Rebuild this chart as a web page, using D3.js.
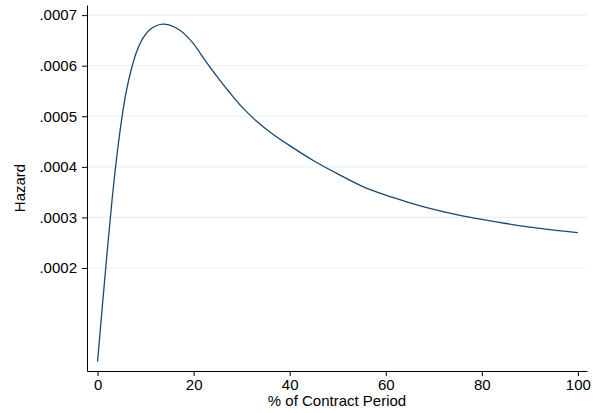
<!DOCTYPE html>
<html>
<head>
<meta charset="utf-8">
<script src="https://cdn.jsdelivr.net/npm/d3@7"></script>
<style>
  body { margin: 0; background: #fff; }
  text { font-family: "Liberation Sans", Arial, sans-serif; }
</style>
</head>
<body>
<svg id="chart"></svg>
<script>
// values
const pct = [0, 1, 2, 3, 4, 5, 6, 7, 8, 9, 10, 11, 12, 13.5, 15, 17, 18.5, 20, 22.5, 25, 27.5, 30, 33, 36, 40, 45, 50, 55, 60, 65, 70, 75, 80, 85, 90, 95, 100];
const hazard = [0.000015, 0.000125, 0.000232, 0.000333, 0.00042, 0.000493, 0.00055, 0.000592, 0.000624, 0.000647, 0.000662, 0.000672, 0.000678, 0.000682, 0.00068, 0.000671, 0.000659, 0.000643, 0.000609, 0.000577, 0.000547, 0.000519, 0.000491, 0.000468, 0.000442, 0.000412, 0.000386, 0.000362, 0.000344, 0.000329, 0.000316, 0.000305, 0.000296, 0.000288, 0.000281, 0.000275, 0.00027];
const xTicks = [0, 20, 40, 60, 80, 100];
const yTicks = [0.0002, 0.0003, 0.0004, 0.0005, 0.0006, 0.0007];

const width = 599;
const height = 413;

const data = pct.map((p, i) => ({p: p, h: hazard[i]}));

const svg = d3.select("#chart")
    .attr("width", width)
    .attr("height", height);

const x = d3.scaleLinear().domain([-2.2, 101.9]).range([87, 587]);
const y = d3.scaleLinear().domain([-0.0000036, 0.00072]).range([371, 5]);

// light gridlines
svg.append("g")
    .selectAll("line")
    .data(yTicks)
    .enter().append("line")
    .attr("x1", x.range()[0])
    .attr("x2", x.range()[1])
    .attr("y1", d => y(d))
    .attr("y2", d => y(d))
    .attr("stroke", "#eaf2f3")
    .attr("stroke-width", 1.2);

const fmt = d => d3.format(".4f")(d).replace(/^0/, "");

const yAxis = svg.append("g")
    .attr("transform", "translate(87,0)")
    .call(d3.axisLeft(y).tickValues(yTicks).tickFormat(fmt).tickSize(5).tickSizeOuter(0).tickPadding(5));

const xAxis = svg.append("g")
    .attr("transform", "translate(0,371)")
    .call(d3.axisBottom(x).tickValues(xTicks).tickSize(5).tickSizeOuter(0).tickPadding(3));

[yAxis, xAxis].forEach(g => {
    g.selectAll("path, line").attr("stroke", "#000").attr("stroke-width", 1);
    g.selectAll("text").attr("fill", "#000").style("font-size", "15px")
        .style("font-family", '"Liberation Sans", Arial, sans-serif');
});

// hazard curve
const line = d3.line()
    .x(d => x(d.p))
    .y(d => y(d.h))
    .curve(d3.curveCatmullRom.alpha(0.5));

svg.append("path")
    .datum(data)
    .attr("d", line)
    .attr("fill", "none")
    .attr("stroke", "#1a476f")
    .attr("stroke-width", 1.3);

// axis titles
svg.append("text")
    .attr("x", (x.range()[0] + x.range()[1]) / 2)
    .attr("y", 406)
    .attr("text-anchor", "middle")
    .style("font-size", "15px")
    .text("% of Contract Period");

svg.append("text")
    .attr("transform", "translate(25," + ((y.range()[0] + y.range()[1]) / 2) + ") rotate(-90)")
    .attr("text-anchor", "middle")
    .style("font-size", "15px")
    .text("Hazard");
</script>
</body>
</html>
